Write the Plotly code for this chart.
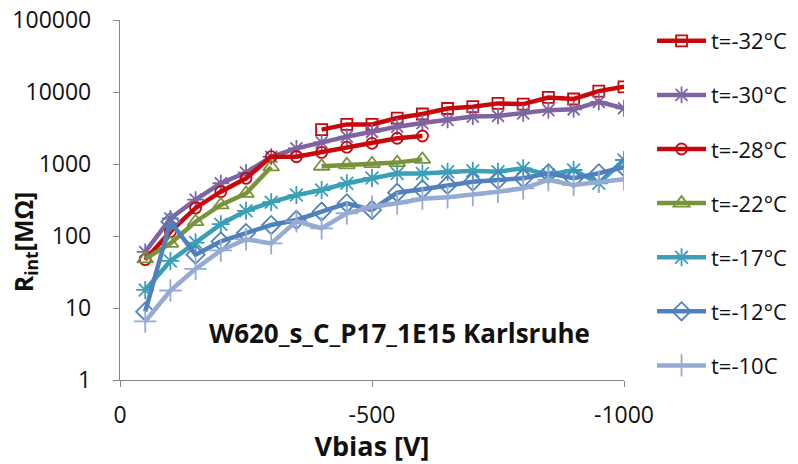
import plotly.graph_objects as go

# Bias voltage steps (V)
vbias = [-50, -100, -150, -200, -250, -300, -350, -400, -450, -500,
         -550, -600, -650, -700, -750, -800, -850, -900, -950, -1000]

# Interstrip resistance R_int [MOhm] per temperature (None = not measured)
r_m32 = [None, None, None, None, None, None, None, 3000, 3550, 3550,
         4350, 4950, 5900, 6250, 6950, 6800, 8400, 8000, 10300, 11800]
r_m30 = [60, 175, 320, 540, 760, 1260, 1650, 2000, 2400, 2800,
         3300, 3700, 4100, 4550, 4650, 5050, 5600, 5750, 7300, 5950]
r_m28 = [47, 115, 245, 412, 633, 1263, 1260, 1450, 1710, 1940,
         2280, 2450, None, None, None, None, None, None, None, None]
r_m22 = [48, 79, 158, 270, 390, 910, None, 930, 975, 1010,
         1045, 1160, None, None, None, None, None, None, None, None]
r_m17 = [17.8, 45, 81, 146, 224, 295, 370, 435, 540, 640,
         740, 740, 782, 807, 782, 871, 703, 825, 540, 1136]
r_m12 = [8.9, 158, 55, 84, 110, 142, 167, 218, 285, 230,
         400, 445, 511, 568, 600, 633, 743, 633, 743, 900]
r_m10 = [6.5, 17.5, 35, 63, 90, 79, 160, 128, 207, 255,
         285, 330, 345, 371, 412, 460, 600, 511, 568, 613]

labels = ["t=-32°C", "t=-30°C", "t=-28°C", "t=-22°C", "t=-17°C", "t=-12°C", "t=-10C"]
series = [r_m32, r_m30, r_m28, r_m22, r_m17, r_m12, r_m10]
colors = ["#C8070C", "#7F64A1", "#C8070C", "#77933C", "#3A9FB7", "#4F81BD", "#95ABD3"]
symbols = ["square-open", "asterisk-open", "circle-open", "triangle-up-open",
           "asterisk-open", "diamond-open", "cross-thin-open"]
msizes = [11, 14, 11, 14, 15, 14, 16]

FONT = "Open Sans"

fig = go.Figure()
for i, (name, ys) in enumerate(zip(labels, series)):
    fig.add_trace(go.Scatter(
        x=vbias, y=ys, name=name, mode="lines+markers",
        legendgroup=f"g{i}",
        connectgaps=False,
        line=dict(color=colors[i], width=4.5),
        marker=dict(symbol=symbols[i], size=msizes[i], color=colors[i],
                    line=dict(color=colors[i], width=1.8)),
    ))

axis_col = "#878787"
fig.update_xaxes(
    range=[0, -1000], autorange=False,
    tickvals=[0, -500, -1000], ticktext=["0", "-500", "-1000"],
    showline=True, linecolor=axis_col, linewidth=1.3,
    ticks="outside", ticklen=6, tickcolor=axis_col, tickwidth=1.3,
    ticklabelstandoff=8,
    tickfont=dict(family=FONT, size=23, color="#111"),
    showgrid=False, zeroline=False,
    title=dict(text="<b>Vbias [V]</b>", font=dict(family=FONT, size=27, color="#111"),
               standoff=4),
)
fig.update_yaxes(
    type="log", range=[0, 5], autorange=False,
    tickvals=[1, 10, 100, 1000, 10000, 100000],
    ticktext=["1", "10", "100", "1000", "10000", "100000"],
    showline=True, linecolor=axis_col, linewidth=1.3,
    ticks="outside", ticklen=6, tickcolor=axis_col, tickwidth=1.3,
    ticklabelstandoff=17,
    tickfont=dict(family=FONT, size=23, color="#111"),
    showgrid=False, zeroline=False,
)

fig.add_annotation(
    text="<b>W620_s_C_P17_1E15 Karlsruhe</b>",
    xref="paper", yref="paper", x=0.555, y=0.131, xanchor="center", yanchor="middle",
    showarrow=False, font=dict(family=FONT, size=26, color="#111"),
)
fig.add_annotation(
    text="<b>R<sub>int</sub>[MΩ]</b>",
    xref="paper", yref="paper", x=-0.19, y=0.383, xanchor="center", yanchor="middle",
    textangle=-90, showarrow=False, font=dict(family=FONT, size=25, color="#111"),
)

fig.update_layout(
    width=798, height=464,
    margin=dict(l=120, r=174, t=20, b=84, autoexpand=False),
    paper_bgcolor="white", plot_bgcolor="white",
    showlegend=True,
    legend=dict(
        x=1.0556, y=1.0, xanchor="left", yanchor="top",
        font=dict(family=FONT, size=22, color="#111"),
        tracegroupgap=22.5, itemwidth=49, maxheight=460,
        bgcolor="rgba(0,0,0,0)",
    ),
)

fig.write_html("out.html")
